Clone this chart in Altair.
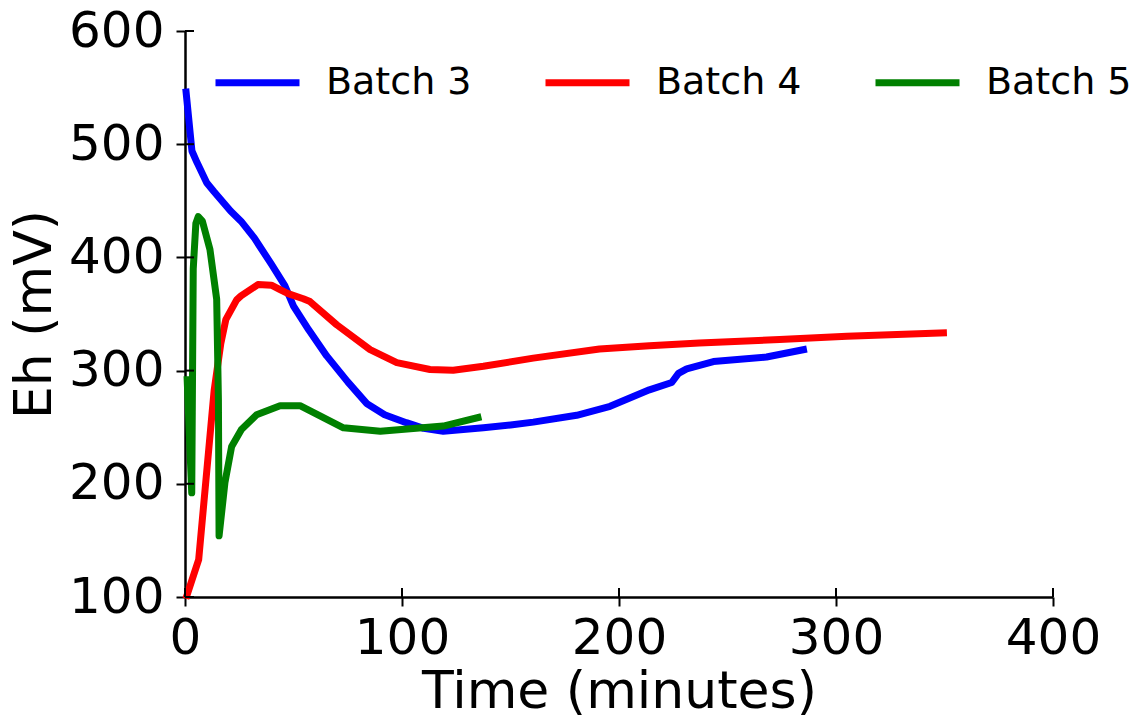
import altair as alt
import pandas as pd

# ---- data ----
series_names = ["Batch 3", "Batch 4", "Batch 5"]
series_colors = ["#0000ff", "#ff0000", "#008000"]

b3_time = [0.5, 3.2, 5.5, 10.0, 13.4, 21.0, 25.8, 32.0, 39.8, 46.0, 50.0, 57.0, 65.3, 75.0,
           83.7, 92.0, 102.0, 110.0, 119.0, 137.5, 150.0, 160.5, 180.5, 195.9, 214.0, 224.3,
           227.4, 231.2, 243.5, 268.0, 285.0]
b3_eh = [546, 494, 484, 466, 458, 441, 432, 417, 394, 375, 357, 336, 313, 290,
         271, 261, 254, 249, 246.5, 249.5, 252, 254.5, 260.5, 268.5, 283, 289.5,
         297.5, 301.5, 308, 312, 318.5]

b4_time = [0.9, 6.3, 13.4, 16.5, 18.8, 23.8, 25.8, 33.6, 39.8, 43.8, 47.5, 54.5, 57.6, 69.9,
           85.3, 97.6, 112.9, 123.6, 137.5, 160.5, 191.0, 214.0, 237.0, 274.0, 305.0, 349.5]
b4_eh = [101.5, 133, 282, 324, 345, 362.5, 366, 376, 375.5, 371.5, 368, 363.5, 361, 340.5,
         318.5, 307, 301, 300.3, 303.8, 311, 319, 322, 324.4, 327.4, 330.3, 333.3]

b5_time = [1.0, 3.1, 3.8, 5.0, 6.1, 8.0, 11.5, 14.6, 15.4, 15.7, 18.4, 21.5, 26.0, 33.0,
           43.8, 53.0, 73.0, 90.0, 119.0, 135.0]
b5_eh = [292, 192, 390, 430, 436, 432, 407, 363, 274, 154, 201, 233, 248, 261,
         269, 269, 249.5, 246.5, 251, 258.5]

x_ticks = [0, 100, 200, 300, 400]
y_ticks = [100, 200, 300, 400, 500, 600]

rows = []
for name, ts, vs in zip(series_names, [b3_time, b4_time, b5_time], [b3_eh, b4_eh, b5_eh]):
    for t, v in zip(ts, vs):
        rows.append({"t": t, "v": v, "series": name})
df = pd.DataFrame(rows)
df_xt = pd.DataFrame({"t": x_ticks})
df_yt = pd.DataFrame({"v": y_ticks})

W, H = 868, 566
TICK = 9
FONT = "DejaVu Sans"

x_enc = alt.X(
    "t:Q",
    scale=alt.Scale(domain=[0, 400], nice=False, zero=False),
    axis=alt.Axis(values=x_ticks, title="Time (minutes)", labelFlush=False,
                  labelPadding=7, titlePadding=3, format="d"),
)
y_enc = alt.Y(
    "v:Q",
    scale=alt.Scale(domain=[100, 600], nice=False, zero=False),
    axis=alt.Axis(values=y_ticks, title="Eh (mV)", labelFlush=False,
                  labelPadding=12, titlePadding=7, format="d"),
)

lines = alt.Chart(df).mark_line(strokeWidth=7, strokeCap="square", strokeJoin="round").encode(
    x=x_enc,
    y=y_enc,
    color=alt.Color(
        "series:N",
        scale=alt.Scale(domain=series_names, range=series_colors),
        legend=alt.Legend(
            orient="none", legendX=27, legendY=6, direction="horizontal", title=None,
            symbolType="stroke", symbolSize=84 * 84, symbolStrokeWidth=7,
            labelFontSize=38, labelFont=FONT, labelColor="black", labelOffset=23,
            columnPadding=59, padding=0,
        ),
    ),
)

# inward half of the "in-out" tick marks
xt_in = alt.Chart(df_xt).mark_rule(color="black", strokeWidth=2).encode(
    x=x_enc, y=alt.value(H), y2=alt.value(H - TICK)
)
yt_in = alt.Chart(df_yt).mark_rule(color="black", strokeWidth=2).encode(
    y=y_enc, x=alt.value(0), x2=alt.value(TICK)
)

chart = (
    alt.layer(lines, xt_in, yt_in)
    .properties(
        width=W,
        height=H,
        autosize=alt.AutoSizeParams(type="none"),
        padding={"left": 185, "top": 31, "right": 1139 - 185 - W, "bottom": 721 - 31 - H},
        background="white",
    )
    .configure_view(stroke=None)
    .configure_axis(
        grid=False,
        domainColor="black",
        domainWidth=2.5,
        tickColor="black",
        tickWidth=2,
        tickSize=TICK,
        labelFont=FONT,
        labelFontSize=50,
        labelColor="black",
        titleFont=FONT,
        titleFontSize=52,
        titleFontWeight="normal",
        titleColor="black",
    )
)

chart.save("out.html", embed_options={"renderer": "svg", "actions": False})
